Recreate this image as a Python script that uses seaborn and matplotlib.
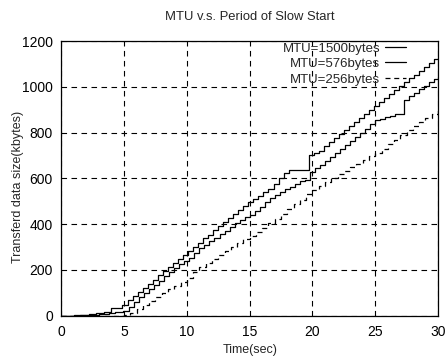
import matplotlib
matplotlib.use("Agg")
import matplotlib.pyplot as plt
import seaborn as sns
import pandas as pd

# Cumulative transferred data (kbytes) over time (sec) for three MTU sizes
time_1500 = [0, 1.0, 1.6, 2.2, 2.8, 3.4, 4.0, 4.8,
             5.3, 5.7, 6.1, 6.5, 6.9, 7.3, 7.7, 8.1, 8.5, 8.9, 9.3, 9.7,
             10.1, 10.5, 10.9, 11.3, 11.7, 12.1, 12.5, 12.9, 13.3, 13.7,
             14.1, 14.5, 14.9, 15.3, 15.7, 16.1, 16.5, 16.9, 17.3, 17.7, 18.1,
             19.7, 20.1, 20.5, 20.9, 21.3, 21.7, 22.1, 22.5, 22.9, 23.3,
             23.7, 24.1, 24.5, 24.9, 25.3, 25.7, 26.1, 26.5, 26.9, 27.3,
             27.7, 28.1, 28.5, 28.9, 29.3, 29.7, 30.0]
data_1500 = [0, 2, 4, 7, 11, 16, 35, 48,
             68, 86, 104, 122, 140, 158, 176, 194, 212, 230, 248, 266,
             284, 302, 320, 338, 355, 373, 391, 409, 427, 445,
             463, 481, 495, 510, 525, 540, 556, 575, 600, 623, 637,
             703, 712, 722, 740, 758, 775, 793, 811, 829, 847,
             865, 883, 900, 918, 935, 952, 969, 986, 1003, 1020,
             1037, 1054, 1070, 1087, 1104, 1120, 1127]

time_576 = [0, 1.5, 2.2, 3.0, 3.8, 4.3, 4.9,
            5.4, 5.8, 6.2, 6.6, 7.0, 7.4, 7.8, 8.2, 8.6, 9.0, 9.4, 9.8,
            10.2, 10.6, 11.0, 11.4, 11.8, 12.2, 12.6, 13.0, 13.4, 13.8,
            14.2, 14.6, 15.0, 15.4, 15.8, 16.2, 16.6, 17.0, 17.4, 17.8,
            18.2, 18.6, 19.0, 19.4, 19.8, 20.2, 20.6, 21.0, 21.4, 21.8,
            22.2, 22.6, 23.0, 23.4, 23.8, 24.2, 24.6, 25.0, 25.4, 25.8,
            26.2, 26.6, 27.3, 27.7, 28.1, 28.5, 28.9, 29.3, 29.7, 30.0]
data_576 = [0, 2, 4, 8, 12, 15, 19,
            40, 60, 80, 100, 118, 136, 154, 172, 190, 208, 226, 240,
            254, 274, 296, 311, 326, 341, 356, 372, 388, 404,
            419, 430, 441, 459, 477, 495, 513, 528, 540, 552,
            564, 576, 588, 594, 630, 645, 660, 678, 695, 712,
            730, 748, 765, 783, 800, 818, 836, 856, 862, 868,
            875, 883, 945, 960, 975, 990, 1005, 1020, 1035, 1042]

time_256 = [0, 4.5, 5.0, 5.5, 6.0, 6.5, 7.0, 7.5, 8.0, 8.5, 9.0, 9.5,
            10.0, 10.5, 11.0, 11.5, 12.0, 12.5, 13.0, 13.5, 14.0, 14.5,
            15.0, 15.5, 16.0, 16.5, 17.0, 17.5, 18.0, 18.5, 19.0, 19.5,
            20.0, 20.5, 21.0, 21.5, 22.0, 22.5, 23.0, 23.5, 24.0, 24.5,
            25.0, 25.5, 26.0, 26.5, 27.0, 27.5, 28.0, 28.5, 29.0, 29.5, 30.0]
data_256 = [0, 0, 5, 13, 30, 47, 64, 81, 98, 115, 132, 149,
            166, 190, 215, 232, 249, 266, 283, 300, 317, 334,
            350, 367, 384, 405, 422, 444, 465, 487, 508, 530,
            550, 568, 586, 604, 619, 634, 649, 665, 680, 696,
            711, 730, 750, 770, 790, 810, 828, 846, 864, 882, 900]

series_labels = ["MTU=1500bytes", "MTU=576bytes", "MTU=256bytes"]
x_ticks = [0, 5, 10, 15, 20, 25, 30]
y_ticks = [0, 200, 400, 600, 800, 1000, 1200]

sns.set_style("white")
plt.rcParams["font.family"] = ["Liberation Sans", "DejaVu Sans"]

fig = plt.figure(figsize=(4.47, 3.58), dpi=100)
ax = fig.add_axes([0.137, 0.118, 0.843, 0.767])

frames = [
    pd.DataFrame({"t": time_1500, "kb": data_1500}),
    pd.DataFrame({"t": time_576, "kb": data_576}),
    pd.DataFrame({"t": time_256, "kb": data_256}),
]
styles = [dict(linestyle="-"), dict(linestyle="-"), dict(linestyle=(0, (4, 3)))]

for df, label, st in zip(frames, series_labels, styles):
    sns.lineplot(data=df, x="t", y="kb", ax=ax, color="black", linewidth=0.9,
                 drawstyle="steps-post", estimator=None, label=label, **st)

ax.set_xlim(0, 30)
ax.set_ylim(0, 1200)
ax.set_xticks(x_ticks)
ax.set_yticks(y_ticks)
ax.tick_params(direction="in", length=4, width=0.8, labelsize=10, colors="black")
ax.tick_params(axis="x", pad=7)
ax.tick_params(axis="y", pad=6)
ax.grid(True, color="black", linestyle=(0, (5, 4)), linewidth=0.8)
for sp in ax.spines.values():
    sp.set_color("black")
    sp.set_linewidth(0.9)

ax.set_xlabel("Time(sec)", fontsize=9, labelpad=3)
ax.set_ylabel("Transferd data size(kbytes)", fontsize=9)
ax.yaxis.set_label_coords(-0.1, 0.47)
ax.set_title("MTU v.s. Period of Slow Start", fontsize=9.4, pad=15)

leg = ax.legend(loc="upper right", bbox_to_anchor=(0.93, 1.015), frameon=False,
                markerfirst=False, fontsize=9.5, handlelength=1.6, handletextpad=0.4,
                labelspacing=0.25, borderaxespad=0.0)
for t in leg.get_texts():
    t.set_ha("right")

fig.savefig("out.png", dpi=100)
